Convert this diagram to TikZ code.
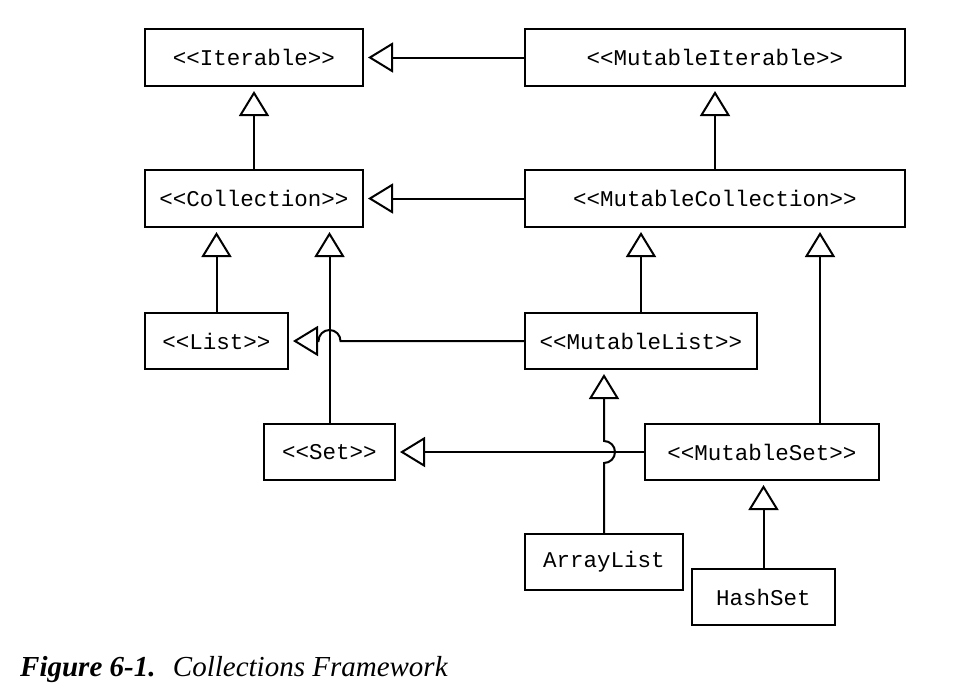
\documentclass[tikz,border=0pt]{standalone}
\usepackage{fontspec}
\setmainfont{Liberation Serif}
\setmonofont{Liberation Mono}
\usetikzlibrary{arrows.meta}

\begin{document}
\begin{tikzpicture}[x=1pt,y=-1pt,
		iface/.style={draw,line width=2pt,minimum height=57pt,inner sep=0pt,
			font=\ttfamily\fontsize{22.5}{24}\selectfont},
		inherit/.style={line width=2pt,shorten >=4pt,
			-{Triangle[open,length=25pt,width=30pt,line width=2pt]}}]
	\useasboundingbox (0,0) rectangle (962,694);
	\node[iface,minimum width=218pt] (iter) at (254,57.5) {<{}<Iterable>{}>};
	\node[iface,minimum width=380pt] (miter) at (715,57.5) {<{}<MutableIterable>{}>};
	\node[iface,minimum width=218pt] (coll) at (254,198.5) {<{}<Collection>{}>};
	\node[iface,minimum width=380pt] (mcoll) at (715,198.5) {<{}<MutableCollection>{}>};
	\node[iface,minimum width=143pt,minimum height=56pt] (list) at (216.5,341) {<{}<List>{}>};
	\node[iface,minimum width=232pt,minimum height=56pt] (mlist) at (641,341) {<{}<MutableList>{}>};
	\node[iface,minimum width=131pt,minimum height=56pt] (set) at (329.5,452) {<{}<Set>{}>};
	\node[iface,minimum width=234pt,minimum height=56pt] (mset) at (762,452) {<{}<MutableSet>{}>};
	\node[iface,minimum width=158pt,minimum height=56pt] (alist) at (604,562) {ArrayList};
	\node[iface,minimum width=143pt,minimum height=56pt] (hset) at (763.5,597) {HashSet};

	\draw[inherit] (miter.west) -- (iter.east);
	\draw[inherit] (coll.north) -- (iter.south);
	\draw[inherit] (mcoll.north) -- (miter.south);
	\draw[inherit] (mcoll.west) -- (coll.east);
	\draw[inherit] (list.north) -- (list.north |- coll.south);
	\draw[inherit] (set.north) -- (set.north |- coll.south);
	\draw[inherit] (mlist.north) -- (mlist.north |- mcoll.south);
	\draw[inherit] ([xshift=58pt]mset.north) -- ([xshift=58pt]mset.north |- mcoll.south);
	\draw[inherit] (mlist.west) -- ([xshift=11pt]set.north |- mlist.west)
		arc[start angle=0,end angle=180,radius=11pt] -- (list.east);
	\draw[inherit] (mset.west) -- (set.east);
	\draw[inherit] (alist.north) -- ([yshift=-11pt]alist.north |- set.east)
		arc[start angle=-90,end angle=90,radius=11pt] -- (alist.north |- mlist.south);
	\draw[inherit] (hset.north) -- (hset.north |- mset.south);

	\node[anchor=base west,inner sep=0pt,font=\fontsize{29}{31}\selectfont] (caption) at (20,676)
		{\textbf{\textit{Figure 6-1.}}\hspace{0.6em}\textit{Collections Framework}};
\end{tikzpicture}
\end{document}
